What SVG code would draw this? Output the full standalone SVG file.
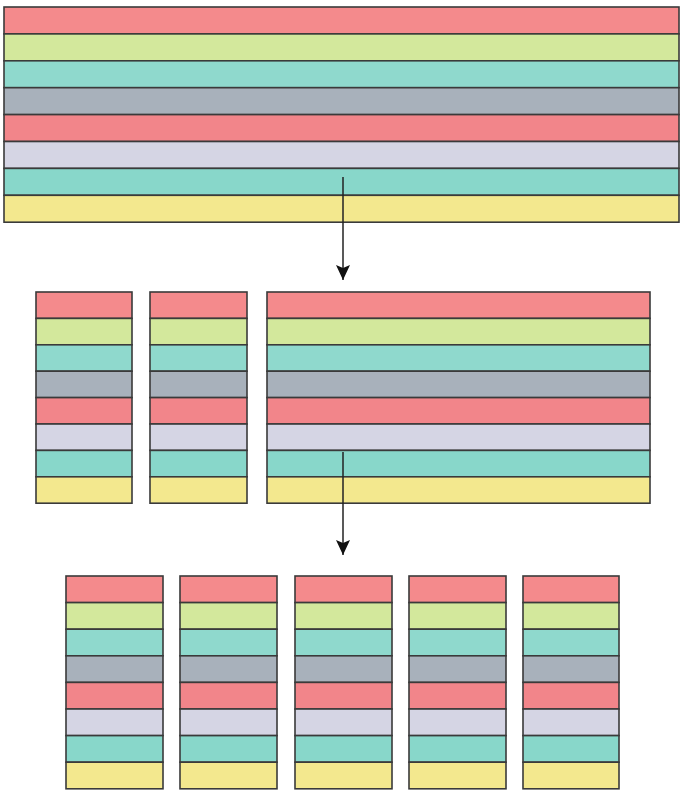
<svg xmlns="http://www.w3.org/2000/svg" width="680" height="792" viewBox="0 0 680 792">
<defs>
<style>
.r1{fill:#f48a8c}.r2{fill:#d3e89c}.r3{fill:#8fd9cd}.r4{fill:#a8b1bb}.r5{fill:#f2858a}.r6{fill:#d5d5e4}.r7{fill:#88d7ca}.r8{fill:#f3e88e}
.s rect{stroke:#3a3a3a;stroke-width:1.6}
.c line{stroke:#222;stroke-width:1.5}
</style>
<marker id="ah" markerWidth="15" markerHeight="14" refX="15" refY="7" orient="auto" markerUnits="userSpaceOnUse">
<path d="M0,0 L15,7 L0,14 L3,7 Z" fill="#111"/>
</marker>
</defs>
<rect width="680" height="792" fill="#fff"/>

<g id="top" class="s">
<rect class="r1" x="4" y="7" width="675" height="26.9"/>
<rect class="r2" x="4" y="33.9" width="675" height="26.9"/>
<rect class="r3" x="4" y="60.8" width="675" height="26.9"/>
<rect class="r4" x="4" y="87.7" width="675" height="26.9"/>
<rect class="r5" x="4" y="114.6" width="675" height="26.9"/>
<rect class="r6" x="4" y="141.5" width="675" height="26.9"/>
<rect class="r7" x="4" y="168.4" width="675" height="26.9"/>
<rect class="r8" x="4" y="195.3" width="675" height="26.9"/>
</g>

<g id="mid1" class="s">
<rect class="r1" x="36" y="292" width="96" height="26.4"/>
<rect class="r2" x="36" y="318.4" width="96" height="26.4"/>
<rect class="r3" x="36" y="344.8" width="96" height="26.4"/>
<rect class="r4" x="36" y="371.2" width="96" height="26.4"/>
<rect class="r5" x="36" y="397.6" width="96" height="26.4"/>
<rect class="r6" x="36" y="424" width="96" height="26.4"/>
<rect class="r7" x="36" y="450.4" width="96" height="26.4"/>
<rect class="r8" x="36" y="476.8" width="96" height="26.4"/>
</g>
<g id="mid2" class="s">
<rect class="r1" x="150" y="292" width="97" height="26.4"/>
<rect class="r2" x="150" y="318.4" width="97" height="26.4"/>
<rect class="r3" x="150" y="344.8" width="97" height="26.4"/>
<rect class="r4" x="150" y="371.2" width="97" height="26.4"/>
<rect class="r5" x="150" y="397.6" width="97" height="26.4"/>
<rect class="r6" x="150" y="424" width="97" height="26.4"/>
<rect class="r7" x="150" y="450.4" width="97" height="26.4"/>
<rect class="r8" x="150" y="476.8" width="97" height="26.4"/>
</g>
<g id="mid3" class="s">
<rect class="r1" x="267" y="292" width="383" height="26.4"/>
<rect class="r2" x="267" y="318.4" width="383" height="26.4"/>
<rect class="r3" x="267" y="344.8" width="383" height="26.4"/>
<rect class="r4" x="267" y="371.2" width="383" height="26.4"/>
<rect class="r5" x="267" y="397.6" width="383" height="26.4"/>
<rect class="r6" x="267" y="424" width="383" height="26.4"/>
<rect class="r7" x="267" y="450.4" width="383" height="26.4"/>
<rect class="r8" x="267" y="476.8" width="383" height="26.4"/>
</g>

<g id="bot1" class="s">
<rect class="r1" x="66" y="576" width="97" height="26.6"/>
<rect class="r2" x="66" y="602.6" width="97" height="26.6"/>
<rect class="r3" x="66" y="629.2" width="97" height="26.6"/>
<rect class="r4" x="66" y="655.8" width="97" height="26.6"/>
<rect class="r5" x="66" y="682.4" width="97" height="26.6"/>
<rect class="r6" x="66" y="709" width="97" height="26.6"/>
<rect class="r7" x="66" y="735.6" width="97" height="26.6"/>
<rect class="r8" x="66" y="762.2" width="97" height="26.6"/>
</g>
<g id="bot2" class="s">
<rect class="r1" x="180" y="576" width="97" height="26.6"/>
<rect class="r2" x="180" y="602.6" width="97" height="26.6"/>
<rect class="r3" x="180" y="629.2" width="97" height="26.6"/>
<rect class="r4" x="180" y="655.8" width="97" height="26.6"/>
<rect class="r5" x="180" y="682.4" width="97" height="26.6"/>
<rect class="r6" x="180" y="709" width="97" height="26.6"/>
<rect class="r7" x="180" y="735.6" width="97" height="26.6"/>
<rect class="r8" x="180" y="762.2" width="97" height="26.6"/>
</g>
<g id="bot3" class="s">
<rect class="r1" x="295" y="576" width="97" height="26.6"/>
<rect class="r2" x="295" y="602.6" width="97" height="26.6"/>
<rect class="r3" x="295" y="629.2" width="97" height="26.6"/>
<rect class="r4" x="295" y="655.8" width="97" height="26.6"/>
<rect class="r5" x="295" y="682.4" width="97" height="26.6"/>
<rect class="r6" x="295" y="709" width="97" height="26.6"/>
<rect class="r7" x="295" y="735.6" width="97" height="26.6"/>
<rect class="r8" x="295" y="762.2" width="97" height="26.6"/>
</g>
<g id="bot4" class="s">
<rect class="r1" x="409" y="576" width="97" height="26.6"/>
<rect class="r2" x="409" y="602.6" width="97" height="26.6"/>
<rect class="r3" x="409" y="629.2" width="97" height="26.6"/>
<rect class="r4" x="409" y="655.8" width="97" height="26.6"/>
<rect class="r5" x="409" y="682.4" width="97" height="26.6"/>
<rect class="r6" x="409" y="709" width="97" height="26.6"/>
<rect class="r7" x="409" y="735.6" width="97" height="26.6"/>
<rect class="r8" x="409" y="762.2" width="97" height="26.6"/>
</g>
<g id="bot5" class="s">
<rect class="r1" x="523" y="576" width="96" height="26.6"/>
<rect class="r2" x="523" y="602.6" width="96" height="26.6"/>
<rect class="r3" x="523" y="629.2" width="96" height="26.6"/>
<rect class="r4" x="523" y="655.8" width="96" height="26.6"/>
<rect class="r5" x="523" y="682.4" width="96" height="26.6"/>
<rect class="r6" x="523" y="709" width="96" height="26.6"/>
<rect class="r7" x="523" y="735.6" width="96" height="26.6"/>
<rect class="r8" x="523" y="762.2" width="96" height="26.6"/>
</g>

<g id="connectors" class="c">
<line x1="343" y1="177" x2="343" y2="280" marker-end="url(#ah)"/>
<line x1="343" y1="452" x2="343" y2="555" marker-end="url(#ah)"/>
</g>
</svg>
